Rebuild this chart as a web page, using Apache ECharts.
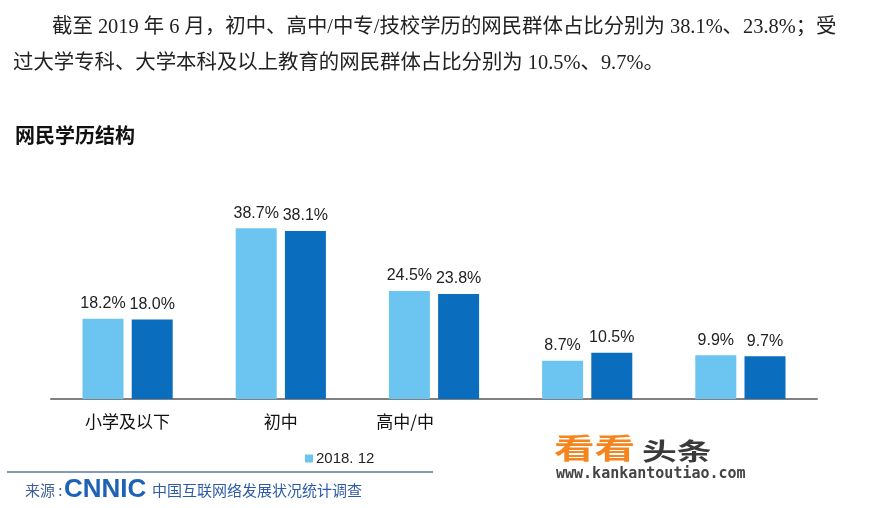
<!DOCTYPE html>
<html><head><meta charset="utf-8">
<script src="https://cdn.jsdelivr.net/npm/echarts@6/dist/echarts.min.js"></script>
<style>html,body{margin:0;padding:0;background:#fff}#c{width:877px;height:508px}</style>
</head><body><div id="c"></div>
<script>
var categories = ['小学及以下', '初中', '高中/中', '', ''];
var series2018 = [18.2, 38.7, 24.5, 8.7, 9.9];
var series2019 = [18.0, 38.1, 23.8, 10.5, 9.7];
var seriesNames = ['2018. 12', '2019. 6'];
var yTicks = [0, 50];

var chart = echarts.init(document.getElementById('c'), null, {renderer: 'canvas'});
var cjk = '"Noto Sans CJK SC", sans-serif';
var serif = '"Liberation Serif", "Noto Sans CJK SC", serif';
var xData = categories.map(function (c, i) {
  if (i === 2) return {value: c, textStyle: {align: 'right'}};
  return c;
});
var labelStyle = {show: true, position: 'top', distance: 7, formatter: function (p) { return p.value.toFixed(1) + '%'; },
  color: '#222', fontSize: 16, fontFamily: '"Liberation Sans", Arial, sans-serif'};
chart.setOption({
  animation: false,
  backgroundColor: '#fff',
  grid: {left: 51, right: 60, top: 178.5, bottom: 109},
  legend: {data: [seriesNames[0]], left: 300, top: 446, icon: 'rect', itemWidth: 8, itemHeight: 8, itemGap: 10,
    textStyle: {fontSize: 15, color: '#222', fontFamily: '"Liberation Sans", Arial, sans-serif', padding: [0, 0, 0, -2]}},
  xAxis: {type: 'category', data: xData,
    axisLine: {lineStyle: {color: '#808080', width: 2}}, axisTick: {show: false},
    axisLabel: {fontSize: 17, color: '#111', fontFamily: cjk, margin: 14, interval: 0}},
  yAxis: {type: 'value', min: yTicks[0], max: yTicks[1], show: false, splitLine: {show: false}},
  series: [
    {name: seriesNames[0], type: 'bar', data: series2018, barWidth: 41, barGap: '20%',
     itemStyle: {color: '#6CC5F1'}, label: labelStyle},
    {name: seriesNames[1], type: 'bar', data: series2019, barWidth: 41,
     itemStyle: {color: '#0B6DBD'}, label: labelStyle}
  ],
  graphic: [
    {type: 'text', left: 52, top: 17, style: {text: '截至 2019 年 6 月，初中、高中/中专/技校学历的网民群体占比分别为 38.1%、23.8%；受', font: '20.4px ' + serif, fill: '#222'}},
    {type: 'text', left: 13, top: 53, style: {text: '过大学专科、大学本科及以上教育的网民群体占比分别为 10.5%、9.7%。', font: '20.4px ' + serif, fill: '#222'}},
    {type: 'text', left: 15, top: 125, style: {text: '网民学历结构', font: 'bold 20px ' + cjk, fill: '#111'}},
    {type: 'line', shape: {x1: 7, y1: 472, x2: 433, y2: 472}, style: {stroke: '#5a7aa0', lineWidth: 1.5}},
    {type: 'text', left: 25, top: 483, style: {text: '来源 :', font: '15px ' + cjk, fill: '#3d5f9a'}},
    {type: 'text', left: 64, top: 477, style: {text: 'CNNIC', font: 'bold 26px "Liberation Sans", Arial, sans-serif', fill: '#1d62b5'}},
    {type: 'text', left: 152, top: 483, style: {text: '中国互联网络发展状况统计调查', font: '15px ' + cjk, fill: '#2d5ca6'}},
    {type: 'text', x: 554, y: 434, scaleX: 1.45, style: {text: '看看', font: 'bold 28px ' + cjk, fill: '#F5861F'}},
    {type: 'text', x: 642, y: 439, scaleX: 1.45, style: {text: '头条', font: 'bold 24px ' + cjk, fill: '#3a3a3a'}},
    {type: 'text', left: 556, top: 467, style: {text: 'www.kankantoutiao.com', font: 'bold 15px "DejaVu Sans Mono", monospace', fill: '#444'}}
  ]
});
</script></body></html>
